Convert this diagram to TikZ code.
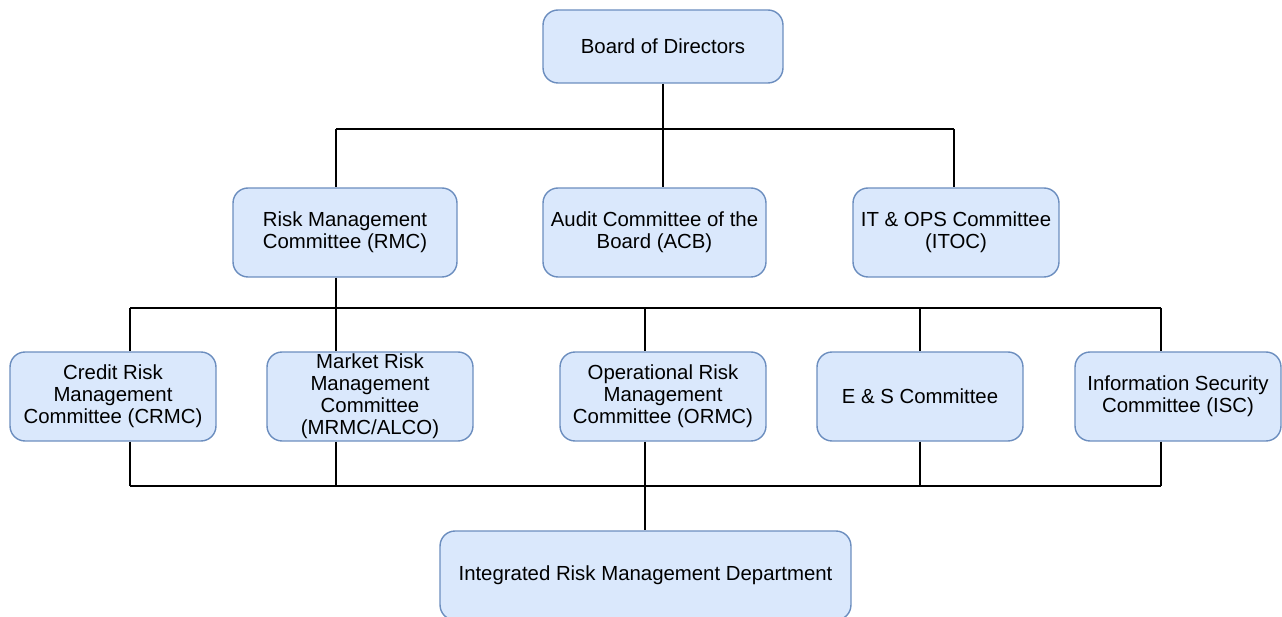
\documentclass[tikz,border=0pt]{standalone}
\usepackage{fontspec}
\setmainfont{Liberation Sans}
\usepackage{xcolor}
\usepackage{tikz}
\usetikzlibrary{positioning}
\definecolor{boxfill}{HTML}{DAE8FC}
\definecolor{boxline}{HTML}{6C8EBF}

\begin{document}
\begin{tikzpicture}[x=0.02cm, y=-0.02cm,
    unit/.style={draw=boxline, fill=boxfill, line width=0.8pt, rounded corners=0.3cm,
        align=center, inner xsep=2pt, inner ysep=0pt, font=\fontsize{11.6pt}{12.6pt}\selectfont},
    link/.style={line width=0.85pt, black}]
            \useasboundingbox (0,0) rectangle (1282,617);

            % Top level
            \node[unit, minimum width=4.8cm, minimum height=1.46cm] (board) at (663,46.5) {Board of Directors};

            % Board committees
            \node[unit, minimum width=4.48cm, minimum height=1.78cm] (rmc) at (345,232.5) {Risk Management\\Committee (RMC)};
            \node[unit, minimum width=4.46cm, minimum height=1.78cm] (acb) at (654.5,232.5) {Audit Committee of the\\Board (ACB)};
            \node[unit, minimum width=4.12cm, minimum height=1.78cm] (itoc) at (956,232.5) {IT \& OPS Committee\\(ITOC)};

            % Management committees
            \node[unit, minimum width=4.12cm, minimum height=1.78cm] (crmc) at (113,396.5) {Credit Risk\\Management\\Committee (CRMC)};
            \node[unit, minimum width=4.12cm, minimum height=1.78cm] (mrmc) at (370,396.5) {Market Risk\\Management\\Committee\\(MRMC/ALCO)};
            \node[unit, minimum width=4.12cm, minimum height=1.78cm] (ormc) at (663,396.5) {Operational Risk\\Management\\Committee (ORMC)};
            \node[unit, minimum width=4.12cm, minimum height=1.78cm] (esc) at (920,396.5) {E \& S Committee};
            \node[unit, minimum width=4.12cm, minimum height=1.78cm] (isc) at (1178,396.5) {Information Security\\Committee (ISC)};

            % Department
            \node[unit, minimum width=8.22cm, minimum height=1.78cm] (irmd) at (645.5,575.5) {Integrated Risk Management Department};

            % Bus junctions
            \coordinate (b1l) at (336,129);
            \coordinate (b1m) at (663,129);
            \coordinate (b1r) at (954,129);
            \coordinate (b2a) at (130,308);
            \coordinate (b2b) at (336,308);
            \coordinate (b2c) at (645,308);
            \coordinate (b2d) at (920,308);
            \coordinate (b2e) at (1161,308);
            \coordinate (b3a) at (130,486);
            \coordinate (b3b) at (336,486);
            \coordinate (b3c) at (645,486);
            \coordinate (b3d) at (920,486);
            \coordinate (b3e) at (1161,486);

            % Board to committees
            \draw[link] (board.south) -- (b1m);
            \draw[link] (b1l) -- (b1r);
            \draw[link] (b1l) -- (b1l |- rmc.north);
            \draw[link] (b1m) -- (b1m |- acb.north);
            \draw[link] (b1r) -- (b1r |- itoc.north);

            % RMC to management committees
            \draw[link] (b2b |- rmc.south) -- (b2b);
            \draw[link] (b2a) -- (b2e);
            \foreach \j/\n in {b2a/crmc, b2b/mrmc, b2c/ormc, b2d/esc, b2e/isc}
                \draw[link] (\j) -- (\j |- \n.north);

            % Management committees to department
            \foreach \j/\n in {b3a/crmc, b3b/mrmc, b3c/ormc, b3d/esc, b3e/isc}
                \draw[link] (\j |- \n.south) -- (\j);
            \draw[link] (b3a) -- (b3e);
            \draw[link] (b3c) -- (b3c |- irmd.north);
        \end{tikzpicture}
\end{document}
